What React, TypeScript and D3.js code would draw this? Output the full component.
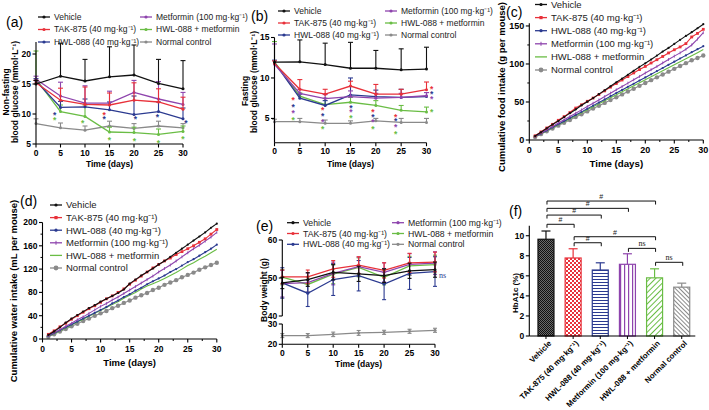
import React from "react";
import * as d3 from "d3";

const FONT = "'Liberation Sans', Arial, Helvetica, sans-serif";

// ---------- shared ----------
const groupNames = [
  "Vehicle",
  "TAK-875 (40 mg·kg⁻¹)",
  "HWL-088 (40 mg·kg⁻¹)",
  "Metformin (100 mg·kg⁻¹)",
  "HWL-088 + metformin",
  "Normal control",
];
const groupColors = ["#111111", "#e8313a", "#2b3a90", "#8e44ad", "#6abd45", "#8a8a8a"];
const timePoints = [0, 5, 10, 15, 20, 25, 30];
const dailyDays = [1, 2, 3, 4, 5, 6, 7, 8, 9, 10, 11, 12, 13, 14, 15, 16, 17, 18, 19, 20, 21, 22, 23, 24, 25, 26, 27, 28, 29, 30];
const timeTicks = [0, 5, 10, 15, 20, 25, 30];

// ---------- (a) non-fasting blood glucose ----------
const nfMean = [
  [15.0, 16.3, 15.5, 16.2, 16.5, 15.1, 14.2],
  [15.2, 12.3, 11.6, 11.5, 12.3, 12.0, 10.8],
  [15.5, 11.1, 11.2, 10.7, 9.9, 10.4, 9.2],
  [15.8, 13.0, 11.8, 11.8, 13.6, 12.5, 11.6],
  [15.8, 10.4, 9.6, 7.0, 6.9, 6.6, 7.1],
  [8.4, 7.7, 7.3, 8.0, 7.6, 8.0, 7.7],
];
const nfUp = [
  [0.6, 5.5, 3.6, 5.0, 5.0, 4.0, 4.7],
  [0.4, 2.0, 2.9, 2.0, 2.9, 2.2, 2.0],
  [0.4, 1.0, 1.3, 1.3, 3.1, 1.6, 1.8],
  [0.5, 2.3, 2.9, 2.0, 2.0, 2.9, 2.0],
  [4.7, 1.1, 1.9, 0.8, 0.9, 0.9, 0.9],
  [0.8, 0.8, 0.7, 0.8, 0.8, 0.8, 0.7],
];
const nfStarDay = [3.8, 3.8, 9.5, 13.9, 13.9, 20.3, 24.8, 30.6, 15.0, 20.1, 25.0, 30.0];
const nfStarVal = [10.2, 9.3, 8.9, 10.2, 9.5, 9.5, 9.8, 8.9, 6.1, 5.9, 5.6, 6.2];
const nfStarGroup = [2, 4, 4, 1, 2, 2, 2, 2, 4, 4, 4, 4];

// ---------- (b) fasting blood glucose ----------
const fMean = [
  [11.95, 12.0, 11.65, 11.2, 11.2, 11.0, 11.1],
  [11.8, 8.6, 8.0, 9.0, 8.0, 8.0, 8.55],
  [11.9, 7.5, 6.6, 7.9, 7.7, 7.6, 7.7],
  [11.7, 8.1, 7.45, 7.7, 7.5, 7.6, 7.8],
  [12.0, 7.75, 6.7, 7.0, 6.6, 6.0, 5.8],
  [4.6, 4.6, 4.4, 4.4, 4.7, 4.5, 4.5],
];
const fUp = [
  [0, 2.7, 2.65, 3.2, 2.2, 2.6, 2.7],
  [0.3, 1.2, 0.6, 0.6, 1.2, 0.6, 0.95],
  [0.3, 0.5, 0.6, 2.1, 0.8, 1.0, 0.5],
  [2.5, 0.5, 0.5, 0.7, 0.6, 0.5, 0.4],
  [2.5, 0.4, 0.8, 0.6, 0.6, 0.6, 0.6],
  [0.3, 0.4, 0.4, 0.3, 0.3, 0.5, 0.5],
];
const fDownMetformin = [10, 0, 0, 0, 0, 0, 0];
const fStarDay = [3.7, 3.7, 3.7, 3.7, 9.5, 9.5, 9.5, 9.5, 15.1, 15.1, 15.1, 19.4, 19.4, 19.4, 19.4, 23.9, 23.9, 23.9, 23.9, 31.0, 31.0, 31.0, 31.0];
const fStarVal = [7.5, 6.7, 5.9, 5.1, 6.25, 5.5, 4.8, 3.9, 6.5, 6.0, 5.3, 6.0, 5.4, 4.8, 4.0, 5.4, 4.9, 4.2, 3.3, 8.9, 8.25, 7.6, 6.0];
const fStarGroup = [1, 2, 3, 4, 1, 2, 3, 4, 2, 3, 4, 1, 2, 3, 4, 1, 2, 3, 4, 1, 2, 3, 4];

// ---------- (c) cumulative food intake ----------
const foodVehicle = [5.2, 10.1, 15.3, 20.4, 25.0, 30.1, 35.3, 40.2, 45.6, 50.4, 55.1, 60.3, 65.4, 70.6, 75.9, 80.7, 85.8, 91.0, 96.2, 100.9, 105.8, 111.0, 116.3, 121.1, 126.4, 131.7, 136.9, 141.8, 147.0, 152.3];
const foodTak = [5.5, 10.6, 15.8, 20.6, 25.9, 30.8, 36.1, 42.0, 46.3, 50.9, 55.2, 59.8, 64.6, 69.5, 74.3, 78.9, 83.4, 88.2, 92.6, 96.8, 101.3, 105.6, 109.9, 114.5, 118.7, 122.4, 126.8, 135.5, 140.2, 145.6];
const foodHwl = [4.6, 8.5, 12.6, 16.6, 20.7, 24.8, 28.9, 33.0, 37.0, 41.1, 45.2, 49.3, 53.4, 57.6, 61.7, 65.8, 69.9, 74.0, 78.2, 82.3, 86.4, 90.6, 94.7, 98.9, 103.0, 107.2, 111.3, 115.5, 119.4, 123.4];
const foodMet = [4.8, 9.0, 13.4, 17.8, 22.3, 26.6, 31.0, 35.3, 39.6, 44.0, 48.3, 52.7, 57.1, 61.6, 66.0, 70.3, 74.8, 79.2, 83.6, 88.1, 92.5, 96.8, 101.4, 105.9, 110.3, 114.6, 119.4, 125.0, 132.8, 141.2];
const foodCombo = [4.4, 8.3, 12.3, 16.2, 20.1, 24.0, 28.0, 31.9, 35.9, 39.8, 43.8, 47.7, 51.7, 55.6, 59.5, 63.4, 67.4, 71.3, 75.3, 79.2, 83.1, 87.1, 91.0, 95.0, 98.9, 102.9, 106.9, 110.9, 114.9, 119.0];
const foodNormal = [4.0, 7.7, 11.4, 15.1, 18.9, 22.6, 26.3, 30.1, 33.8, 37.6, 41.3, 45.0, 48.8, 52.5, 56.3, 60.0, 63.8, 67.5, 71.2, 75.0, 78.7, 82.4, 86.2, 89.9, 93.6, 97.4, 101.1, 104.8, 107.9, 111.2];

// ---------- (d) cumulative water intake ----------
const waterVehicle = [7, 13, 20, 28, 35, 41, 47, 53, 58, 64, 69, 74, 79, 85, 95, 102, 109, 115, 121, 128, 134, 141, 148, 155, 162, 169, 176, 183, 191, 198];
const waterTak = [8, 14, 21, 27, 34, 40, 46, 52, 57, 63, 69, 74, 80, 86, 94, 101, 108, 115, 122, 128, 134, 139, 145, 150, 155, 160, 166, 172, 180, 188];
const waterHwl = [5, 10, 15, 20, 25, 30, 35, 40, 45, 50, 55, 61, 66, 72, 77, 83, 88, 94, 99, 104, 109, 115, 120, 126, 132, 137, 143, 149, 155, 162];
const waterMet = [6, 11, 16, 22, 27, 33, 38, 44, 50, 56, 61, 67, 72, 78, 84, 90, 96, 102, 108, 115, 121, 127, 134, 141, 148, 155, 161, 168, 175, 183];
const waterCombo = [5, 9, 14, 19, 24, 29, 34, 39, 44, 49, 54, 59, 64, 70, 75, 80, 86, 91, 95, 99, 104, 109, 114, 120, 126, 131, 137, 142, 148, 154];
const waterNormal = [4, 8, 13, 17, 22, 26, 31, 35, 40, 44, 48, 53, 57, 62, 66, 71, 75, 79, 84, 88, 93, 97, 101, 106, 110, 114, 119, 123, 127, 131];

// ---------- (e) body weight ----------
const bwMean = [
  [48.7, 49.6, 51.5, 51.1, 50.6, 51.9, 52.2],
  [50.3, 50.3, 52.4, 53.4, 52.0, 54.0, 54.2],
  [48.7, 46.0, 49.6, 50.6, 48.4, 51.2, 51.7],
  [48.5, 48.8, 51.2, 53.0, 51.5, 53.6, 53.9],
  [50.2, 48.3, 51.0, 52.8, 50.2, 53.2, 53.5],
  [24.3, 24.3, 24.9, 25.6, 25.9, 26.4, 26.9],
];
const bwErr = [
  [1.5, 1.8, 2.0, 2.0, 1.8, 2.0, 2.0],
  [1.8, 1.8, 2.2, 2.2, 2.0, 2.5, 2.6],
  [4.0, 3.5, 4.2, 4.0, 4.1, 4.2, 3.9],
  [3.5, 2.5, 3.0, 2.5, 2.5, 2.8, 3.0],
  [2.0, 2.0, 2.5, 2.5, 2.0, 2.5, 2.5],
  [1.0, 1.0, 1.1, 1.2, 1.0, 1.0, 1.0],
];

// ---------- (f) HbA1c ----------
const hbMean = [9.65, 7.78, 6.58, 7.15, 5.8, 4.87];
const hbErr = [0.82, 0.92, 0.72, 1.05, 0.9, 0.4];
const brFrom = [0, 0, 0, 0, 1, 1, 3, 4];
const brTo = [4, 3, 2, 1, 4, 2, 4, 5];
const brLevel = [13.46, 12.73, 12.06, 11.14, 9.9, 9.3, 8.74, 7.35];
const brLabel = ["#", "#", "#", "#", "#", "#", "ns", "ns"];

// ---------- helpers ----------
function XAxis({ s, y, ticks, minor = [], fs, labelY }: any) {
  const [r0, r1] = s.range();
  return (
    <g>
      <line x1={r0} x2={r1} y1={y} y2={y} stroke="#000" strokeWidth={1.1} />
      {minor.map((t: number) => (
        <line key={"m" + t} x1={s(t)} x2={s(t)} y1={y} y2={y + 2} stroke="#000" strokeWidth={1} />
      ))}
      {ticks.map((t: number) => (
        <g key={t}>
          <line x1={s(t)} x2={s(t)} y1={y} y2={y + 3.5} stroke="#000" strokeWidth={1.1} />
          <text x={s(t)} y={labelY} dy="0.35em" textAnchor="middle" fontSize={fs} fontWeight="bold">
            {t}
          </text>
        </g>
      ))}
    </g>
  );
}

function YAxis({ s, x, ticks, minor = [], fs }: any) {
  const [r0, r1] = s.range();
  return (
    <g>
      <line x1={x} x2={x} y1={r0} y2={r1} stroke="#000" strokeWidth={1.1} />
      {minor.map((t: number) => (
        <line key={"m" + t} x1={x - 2} x2={x} y1={s(t)} y2={s(t)} stroke="#000" strokeWidth={1} />
      ))}
      {ticks.map((t: number) => (
        <g key={t}>
          <line x1={x - 3.5} x2={x} y1={s(t)} y2={s(t)} stroke="#000" strokeWidth={1.1} />
          <text x={x - 5} y={s(t)} dy="0.35em" textAnchor="end" fontSize={fs} fontWeight="bold">
            {t}
          </text>
        </g>
      ))}
    </g>
  );
}

function RotText({ x, y, fs, children, bold = true }: any) {
  return (
    <text
      transform={`translate(${x},${y}) rotate(-90)`}
      textAnchor="middle"
      dy="0.35em"
      fontSize={fs}
      fontWeight={bold ? "bold" : "normal"}
    >
      {children}
    </text>
  );
}

function LegendItem({ x, y, gi, fs, marker = "dot", w = 12 }: any) {
  const c = groupColors[gi];
  return (
    <g>
      <line x1={x} x2={x + w} y1={y} y2={y} stroke={c} strokeWidth={1.3} />
      {marker === "dot" && <circle cx={x + w / 2} cy={y} r={1.6} fill={c} />}
      {marker === "square" && <rect x={x + w / 2 - 1.6} y={y - 1.6} width={3.2} height={3.2} fill={c} />}
      {marker === "big" && <circle cx={x + w / 2} cy={y} r={2.4} fill={c} />}
      {marker === "bar" && <line x1={x + w / 2} x2={x + w / 2} y1={y - 2} y2={y + 2} stroke={c} strokeWidth={1} />}
      <text x={x + w + 4} y={y} dy="0.35em" fontSize={fs} fill="#222">
        {groupNames[gi]}
      </text>
    </g>
  );
}

function TimeSeries({ xs, ys, mean, up, down, gi, lw = 1.3, cap = 5, yMin }: any) {
  const c = groupColors[gi];
  const line = d3
    .line<number>()
    .x((_, i) => xs(timePoints[i]))
    .y((d) => ys(d));
  return (
    <g>
      <path d={line(mean) || ""} fill="none" stroke={c} strokeWidth={lw} />
      {mean.map((m: number, i: number) => {
        const x = xs(timePoints[i]);
        const u = up ? up[i] : 0;
        const dn = down ? down[i] : 0;
        const yTop = ys(m + u);
        const lowVal = yMin !== undefined ? Math.max(m - dn, yMin) : m - dn;
        const yBot = ys(lowVal);
        return (
          <g key={i}>
            {u > 0 && (
              <>
                <line x1={x} x2={x} y1={ys(m)} y2={yTop} stroke={c} strokeWidth={1.1} />
                <line x1={x - cap / 2} x2={x + cap / 2} y1={yTop} y2={yTop} stroke={c} strokeWidth={1.1} />
              </>
            )}
            {dn > 0 && (
              <>
                <line x1={x} x2={x} y1={ys(m)} y2={yBot} stroke={c} strokeWidth={1.1} />
                {(yMin === undefined || m - dn > yMin) && (
                  <line x1={x - cap / 2} x2={x + cap / 2} y1={yBot} y2={yBot} stroke={c} strokeWidth={1.1} />
                )}
              </>
            )}
            <circle cx={x} cy={ys(m)} r={1.5} fill={c} />
          </g>
        );
      })}
    </g>
  );
}

function Stars({ xs, ys, days, vals, groups }: any) {
  return (
    <g>
      {days.map((d: number, i: number) => (
        <text
          key={i}
          x={xs(d)}
          y={ys(vals[i])}
          dy="0.6em"
          textAnchor="middle"
          fontSize={8.5}
          fontWeight="bold"
          fill={groupColors[groups[i]]}
        >
          *
        </text>
      ))}
    </g>
  );
}

function DailySeries({ xs, ys, vals, gi, marker }: any) {
  const c = groupColors[gi];
  const line = d3
    .line<number>()
    .x((_, i) => xs(dailyDays[i]))
    .y((d) => ys(d));
  return (
    <g>
      <path d={line(vals) || ""} fill="none" stroke={c} strokeWidth={1.1} />
      {vals.map((v: number, i: number) => {
        const x = xs(dailyDays[i]);
        const y = ys(v);
        if (marker === "dot") return <circle key={i} cx={x} cy={y} r={1.1} fill={c} />;
        if (marker === "square") return <rect key={i} x={x - 1.4} y={y - 1.4} width={2.8} height={2.8} fill={c} />;
        if (marker === "big") return <circle key={i} cx={x} cy={y} r={2.2} fill={c} />;
        if (marker === "bar") return <line key={i} x1={x} x2={x} y1={y - 1.5} y2={y + 1.5} stroke={c} strokeWidth={0.8} />;
        return null;
      })}
    </g>
  );
}

export default function App() {
  // scales
  const xA = d3.scaleLinear().domain([0, 30]).range([36, 183]);
  const yA = d3.scaleLinear().domain([5, 22]).range([144, 42]);
  const xB = d3.scaleLinear().domain([0, 30]).range([274.5, 426.5]);
  const yB = d3.scaleLinear().domain([2, 15]).range([142.7, 37.5]);
  const xC = d3.scaleLinear().domain([0, 30]).range([529.3, 703.3]);
  const yC = d3.scaleLinear().domain([0, 153.5]).range([140, 23.3]);
  const xD = d3.scaleLinear().domain([0, 30]).range([42.5, 216.8]);
  const yD = d3.scaleLinear().domain([0, 200]).range([339, 222.5]);
  const xE = d3.scaleLinear().domain([0, 30]).range([282.3, 435]);
  const yEu = d3.scaleLinear().domain([40, 60]).range([316, 240]);
  const yEl = d3.scaleLinear().domain([20, 30]).range([344.3, 324]);
  const xF = d3.scalePoint<string>().domain(groupNames).range([532.4, 695.3]).padding(0.5);
  const yF = d3.scaleLinear().domain([0, 11]).range([336, 225.7]);

  const legC = d3.scaleLinear().domain([0, 5]).range([4.5, 70]);
  const legD = d3.scaleLinear().domain([0, 5]).range([205, 268]);

  const foodSeries = [foodVehicle, foodTak, foodHwl, foodMet, foodCombo, foodNormal];
  const waterSeries = [waterVehicle, waterTak, waterHwl, waterMet, waterCombo, waterNormal];
  const dailyMarkers = ["dot", "square", "dot", "bar", "none", "big"];
  const drawOrder = [5, 4, 2, 3, 1, 0];
  const barW = 16;

  return (
    <svg
      width={709}
      height={410}
      viewBox="0 0 709 410"
      style={{ position: "absolute", left: 0, top: 0, background: "#fff" }}
      fontFamily={FONT}
    >
      <defs>
        <pattern id="pVeh" width={2} height={2} patternUnits="userSpaceOnUse">
          <rect width={2} height={2} fill="#6a6a6a" />
          <rect width={1} height={1} fill="#111" />
          <rect x={1} y={1} width={1} height={1} fill="#111" />
        </pattern>
        <pattern id="pTak" width={4} height={4} patternUnits="userSpaceOnUse">
          <rect width={4} height={4} fill="#fff" />
          <rect width={2} height={2} fill={groupColors[1]} />
          <rect x={2} y={2} width={2} height={2} fill={groupColors[1]} />
        </pattern>
        <pattern id="pHwl" width={4} height={3} patternUnits="userSpaceOnUse">
          <rect width={4} height={3} fill="#fff" />
          <rect width={4} height={1} fill={groupColors[2]} />
        </pattern>
        <pattern id="pMet" width={4} height={4} patternUnits="userSpaceOnUse">
          <rect width={4} height={4} fill="#fff" />
          <rect width={1.2} height={4} fill={groupColors[3]} />
        </pattern>
        <pattern id="pCombo" width={4} height={4} patternUnits="userSpaceOnUse" patternTransform="rotate(45)">
          <rect width={4} height={4} fill="#fff" />
          <rect width={1} height={4} fill={groupColors[4]} />
        </pattern>
        <pattern id="pNorm" width={3} height={3} patternUnits="userSpaceOnUse" patternTransform="rotate(-45)">
          <rect width={3} height={3} fill="#fff" />
          <rect width={1} height={3} fill={groupColors[5]} />
        </pattern>
      </defs>

      {/* ================= (a) ================= */}
      <text x={6} y={27} fontSize={14}>(a)</text>
      <LegendItem x={38} y={17} gi={0} fs={8.5} />
      <LegendItem x={38} y={29.5} gi={1} fs={8.5} />
      <LegendItem x={38} y={42} gi={2} fs={8.5} />
      <LegendItem x={140} y={17} gi={3} fs={8.5} />
      <LegendItem x={140} y={29.5} gi={4} fs={8.5} />
      <LegendItem x={140} y={42} gi={5} fs={8.5} />
      <RotText x={6.5} y={92} fs={8.5}>Non-fasting</RotText>
      <RotText x={15.5} y={92} fs={8.5}>blood glucose (mmol·L⁻¹)</RotText>
      {drawOrder.map((g) => (
        <TimeSeries key={g} xs={xA} ys={yA} mean={nfMean[g]} up={nfUp[g]} gi={g} />
      ))}
      <Stars xs={xA} ys={yA} days={nfStarDay} vals={nfStarVal} groups={nfStarGroup} />
      <XAxis s={xA} y={144} ticks={timeTicks} fs={8.5} labelY={153} />
      <YAxis s={yA} x={36} ticks={[5, 10, 15, 20]} fs={8.5} />
      <text x={(36 + 183) / 2} y={164} dy="0.35em" textAnchor="middle" fontSize={8.5} fontWeight="bold">
        Time (days)
      </text>

      {/* ================= (b) ================= */}
      <text x={251} y={21} fontSize={14}>(b)</text>
      <LegendItem x={278} y={11} gi={0} fs={8.5} />
      <LegendItem x={278} y={23} gi={1} fs={8.5} />
      <LegendItem x={278} y={35} gi={2} fs={8.5} />
      <LegendItem x={385} y={11} gi={3} fs={8.5} />
      <LegendItem x={385} y={23} gi={4} fs={8.5} />
      <LegendItem x={385} y={35} gi={5} fs={8.5} />
      <RotText x={245.5} y={91} fs={8.5}>Fasting</RotText>
      <RotText x={254} y={82} fs={8.5}>blood glucose (mmol·L⁻¹)</RotText>
      {drawOrder.map((g) => (
        <TimeSeries
          key={g}
          xs={xB}
          ys={yB}
          mean={fMean[g]}
          up={fUp[g]}
          down={g === 3 ? fDownMetformin : undefined}
          yMin={2}
          gi={g}
        />
      ))}
      <Stars xs={xB} ys={yB} days={fStarDay} vals={fStarVal} groups={fStarGroup} />
      <XAxis s={xB} y={142.7} ticks={timeTicks} fs={8.5} labelY={151} />
      <YAxis s={yB} x={274.5} ticks={[5, 10, 15]} fs={8.5} />
      <text x={(274.5 + 426.5) / 2} y={164} dy="0.35em" textAnchor="middle" fontSize={8.5} fontWeight="bold">
        Time (days)
      </text>

      {/* ================= (c) ================= */}
      <text x={506} y={17} fontSize={14}>(c)</text>
      {[0, 1, 2, 3, 4, 5].map((g) => (
        <LegendItem key={g} x={535} y={legC(g)} gi={g} fs={9.5} marker={dailyMarkers[g] === "none" ? "nomark" : dailyMarkers[g]} />
      ))}
      <RotText x={501.5} y={87} fs={9.5}>Cumulative food intake (g per mouse)</RotText>
      {drawOrder.map((g) => (
        <DailySeries key={g} xs={xC} ys={yC} vals={foodSeries[g]} gi={g} marker={dailyMarkers[g]} />
      ))}
      <XAxis s={xC} y={140} ticks={timeTicks} minor={[2.5, 7.5, 12.5, 17.5, 22.5, 27.5]} fs={9} labelY={150} />
      <YAxis s={yC} x={529.3} ticks={[0, 50, 100, 150]} minor={[25, 75, 125]} fs={9} />
      <text x={(529.3 + 703.3) / 2} y={163.5} dy="0.35em" textAnchor="middle" fontSize={9.7} fontWeight="bold">
        Time (days)
      </text>

      {/* ================= (d) ================= */}
      <text x={20} y={206} fontSize={14}>(d)</text>
      {[0, 1, 2, 3, 4, 5].map((g) => (
        <LegendItem key={g} x={50} y={legD(g)} gi={g} fs={9.5} marker={dailyMarkers[g] === "none" ? "nomark" : dailyMarkers[g]} />
      ))}
      <RotText x={14} y={291} fs={9.5}>Cumulative water intake (mL per mouse)</RotText>
      {drawOrder.map((g) => (
        <DailySeries key={g} xs={xD} ys={yD} vals={waterSeries[g]} gi={g} marker={dailyMarkers[g]} />
      ))}
      <XAxis s={xD} y={339} ticks={timeTicks} minor={[2.5, 7.5, 12.5, 17.5, 22.5, 27.5]} fs={8.5} labelY={349} />
      <YAxis s={yD} x={42.5} ticks={[0, 40, 80, 120, 160, 200]} minor={[20, 60, 100, 140, 180]} fs={8.5} />
      <text x={(42.5 + 216.8) / 2} y={362.5} dy="0.35em" textAnchor="middle" fontSize={9.5} fontWeight="bold">
        Time (days)
      </text>

      {/* ================= (e) ================= */}
      <text x={256} y={231} fontSize={14}>(e)</text>
      <LegendItem x={287} y={222.7} gi={0} fs={8.7} />
      <LegendItem x={287} y={233.5} gi={1} fs={8.7} />
      <LegendItem x={287} y={244.3} gi={2} fs={8.7} />
      <LegendItem x={392} y={222.7} gi={3} fs={8.7} />
      <LegendItem x={392} y={233.5} gi={4} fs={8.7} />
      <LegendItem x={392} y={244.3} gi={5} fs={8.7} />
      <RotText x={264} y={290} fs={8.5}>Body weight (g)</RotText>
      <TimeSeries xs={xE} ys={yEl} mean={bwMean[5]} up={bwErr[5]} down={bwErr[5]} gi={5} cap={4} />
      {[4, 3, 2, 1, 0].map((g) => (
        <TimeSeries key={g} xs={xE} ys={yEu} mean={bwMean[g]} up={bwErr[g]} down={bwErr[g]} gi={g} cap={4} />
      ))}
      <text x={442.5} y={275} dy="0.35em" textAnchor="middle" fontSize={8} fill={groupColors[2]} fontFamily="'Liberation Serif', 'Times New Roman', serif">
        ns
      </text>
      <XAxis s={xE} y={344.3} ticks={timeTicks} fs={8.5} labelY={353} />
      <YAxis s={yEu} x={282.3} ticks={[40, 50, 60]} fs={8.5} />
      <YAxis s={yEl} x={282.3} ticks={[20, 30]} fs={8.5} />
      <text x={(282.3 + 435) / 2} y={364} dy="0.35em" textAnchor="middle" fontSize={8.5} fontWeight="bold">
        Time (days)
      </text>

      {/* ================= (f) ================= */}
      <text x={509} y={216} fontSize={14}>(f)</text>
      <RotText x={515.5} y={293} fs={8}>HbA1c (%)</RotText>
      {groupNames.map((g, i) => {
        const cx = xF(g) as number;
        const fills = ["url(#pVeh)", "url(#pTak)", "url(#pHwl)", "url(#pMet)", "url(#pCombo)", "url(#pNorm)"];
        const c = groupColors[i];
        const top = yF(hbMean[i]);
        const et = yF(hbMean[i] + hbErr[i]);
        return (
          <g key={g}>
            <rect x={cx - barW / 2} y={top} width={barW} height={yF(0) - top} fill={fills[i]} stroke={c} strokeWidth={1.2} />
            <line x1={cx} x2={cx} y1={top} y2={et} stroke={c} strokeWidth={1.2} />
            <line x1={cx - 4.5} x2={cx + 4.5} y1={et} y2={et} stroke={c} strokeWidth={1.2} />
          </g>
        );
      })}
      {brFrom.map((f, i) => {
        const x1 = (xF(groupNames[f]) as number) + 1;
        const x2 = (xF(groupNames[brTo[i]]) as number) + 1;
        const y = yF(brLevel[i]);
        const isNs = brLabel[i] === "ns";
        return (
          <g key={i}>
            <path d={`M${x1},${y + 3.5}V${y}H${x2}V${y + 3.5}`} fill="none" stroke="#111" strokeWidth={1} />
            <text
              x={(x1 + x2) / 2}
              y={y - 2}
              textAnchor="middle"
              fontSize={isNs ? 8 : 7}
              fill="#222"
              fontFamily={isNs ? "'Liberation Serif', 'Times New Roman', serif" : FONT}
            >
              {brLabel[i]}
            </text>
          </g>
        );
      })}
      <line x1={529.3} x2={695.3} y1={336} y2={336} stroke="#000" strokeWidth={1.1} />
      {groupNames.map((g) => (
        <line key={g} x1={xF(g) as number} x2={xF(g) as number} y1={336} y2={339} stroke="#000" strokeWidth={1} />
      ))}
      <YAxis s={yF} x={529.3} ticks={[0, 2, 4, 6, 8, 10]} fs={8.5} />
      {groupNames.map((g) => (
        <text
          key={g}
          transform={`translate(${(xF(g) as number) + 4},${342}) rotate(-45)`}
          textAnchor="end"
          dy="0.35em"
          fontSize={7.9}
          fontWeight="bold"
        >
          {g}
        </text>
      ))}
    </svg>
  );
}
